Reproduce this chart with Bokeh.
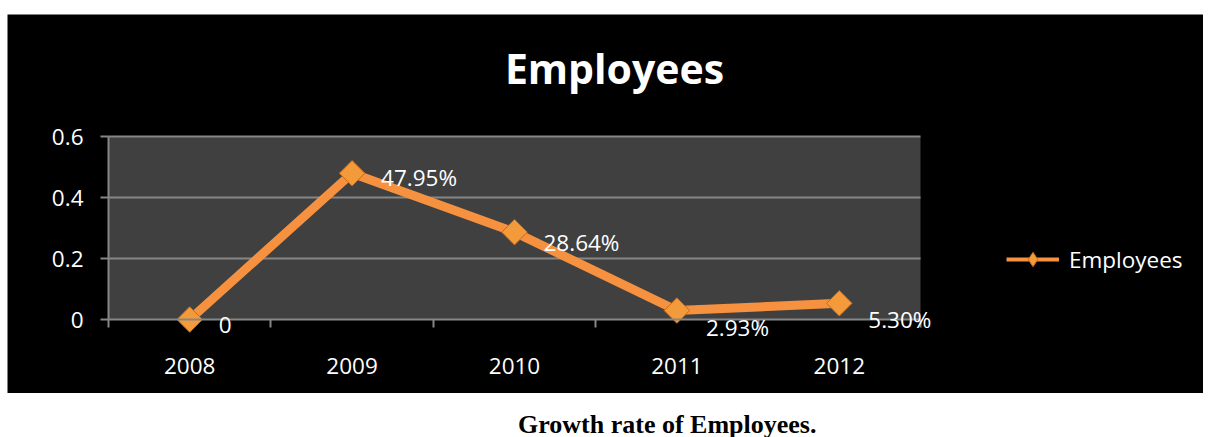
import numpy as np
from bokeh.plotting import figure
from bokeh.models import (ColumnDataSource, FixedTicker, LabelSet, Label, Legend, LegendItem,
                          Range1d, Div)
from bokeh.core.properties import value
from bokeh.layouts import column
from bokeh.embed import file_html
from bokeh.resources import INLINE

# ---- data ----
years = [2008, 2009, 2010, 2011, 2012]
growth = [0.0, 0.4795, 0.2864, 0.0293, 0.0530]
growth_labels = ["0", "47.95%", "28.64%", "2.93%", "5.30%"]
y_ticks = [0, 0.2, 0.4, 0.6]
y_tick_labels = ["0", "0.2", "0.4", "0.6"]
series_name = "Employees"
chart_title = "Employees"
caption = "Growth rate of Employees."

# styling offsets for data labels (pixels, screen)
label_dy = [-5, -4, -10, -17, -16]

FONT = "Open Sans"
FS = "22.5px"
ORANGE = "#F6913F"
GRID = "#868686"

# plot-area placement inside the black chart box (pixels)
W, H = 1196, 379
PL, PR, PT, PB = 101, 283, 122, 74   # gaps from chart box to plot area
x0, x1 = years[0] - 0.5, years[-1] + 0.5
y0, y1 = y_ticks[0], y_ticks[-1]
xs = (x1 - x0) / (W - PL - PR)
ys = (y1 - y0) / (H - PT - PB)

src = ColumnDataSource(dict(x=years, y=growth, lab=growth_labels, dy=label_dy))

p = figure(width=W, height=H, output_backend="svg", toolbar_location=None,
           x_range=Range1d(x0 - PL * xs, x1 + PR * xs),
           y_range=Range1d(y0 - PB * ys, y1 + PT * ys),
           min_border=0)
p.margin = (14, 0, 0, 7)
p.border_fill_color = "black"
p.background_fill_color = "black"
p.outline_line_color = None

# plot area background and gridlines
p.quad(left=[x0], right=[x1], bottom=[y0], top=[y1], fill_color="#404040", line_color=None)
p.segment(x0=[x0] * (len(y_ticks) - 1), x1=[x1] * (len(y_ticks) - 1),
          y0=y_ticks[1:], y1=y_ticks[1:], line_color=GRID, line_width=2)
p.xgrid.grid_line_color = None
p.ygrid.grid_line_color = None

# axes at the plot-area edges
xa = p.xaxis[0]
xa.fixed_location = y0
xa.bounds = (x0, x1)
xa.ticker = FixedTicker(ticks=years, minor_ticks=[y + 0.5 for y in [years[0] - 1] + years])
xa.major_tick_out = 0
xa.major_tick_in = 0
xa.minor_tick_out = 8
xa.minor_tick_in = 0
xa.minor_tick_line_color = GRID
xa.minor_tick_line_width = 2
xa.axis_line_color = GRID
xa.axis_line_width = 2
xa.major_label_text_color = "white"
xa.major_label_text_font = FONT
xa.major_label_text_font_size = FS
xa.major_label_standoff = 30

ya = p.yaxis[0]
ya.fixed_location = x0
ya.bounds = (y0, y1)
ya.ticker = FixedTicker(ticks=y_ticks)
ya.major_label_overrides = {t_: l for t_, l in zip(y_ticks, y_tick_labels)}
ya.major_tick_out = 8
ya.major_tick_in = 0
ya.minor_tick_out = 0
ya.minor_tick_in = 0
ya.major_tick_line_color = GRID
ya.major_tick_line_width = 2
ya.axis_line_color = GRID
ya.axis_line_width = 2
ya.major_label_text_color = "white"
ya.major_label_text_font = FONT
ya.major_label_text_font_size = FS
ya.major_label_standoff = 17

# series
line = p.line("x", "y", source=src, line_color=ORANGE, line_width=9)
pts = p.scatter("x", "y", source=src, marker="square", angle=np.pi / 4, size=18,
                fill_color="#F39A3A", line_color="#C96A1A", line_width=1)

labels = LabelSet(x="x", y="y", text="lab", source=src, x_offset=29, y_offset="dy",
                  text_color="white", text_font=value(FONT), text_font_size=value(FS),
                  text_baseline="middle", text_align="left")
p.add_layout(labels)

# title
p.add_layout(Label(x=607, y=326, x_units="screen", y_units="screen", text=chart_title,
                   text_color="white", text_font=FONT, text_font_size="41px",
                   text_font_style="bold", text_align="center", text_baseline="middle"))

# legend proxies (thinner line, diamond marker as in the reference legend); hidden in plot
leg_line = p.line("x", "y", source=src, line_color=ORANGE, line_width=4, visible=False)
leg_pts = p.scatter("x", "y", source=src, marker="diamond", size=16,
                    fill_color="#F39A3A", line_color="#C96A1A", line_width=1,
                    visible=False)

legend = Legend(items=[LegendItem(label=series_name, renderers=[leg_line, leg_pts])],
                location=(999, 116), orientation="vertical",
                background_fill_alpha=0, inactive_fill_alpha=0,
                border_line_color=None, label_text_color="white",
                label_text_font=FONT, label_text_font_size=FS,
                glyph_width=53, glyph_height=36, label_standoff=10,
                label_height=36, padding=0, margin=0)
p.add_layout(legend, "center")

cap = Div(text=caption, width=1208, height=44,
          styles={"font-family": "'Liberation Serif', 'Times New Roman', serif",
                  "font-weight": "bold", "font-size": "26px", "color": "black",
                  "text-align": "left", "padding-top": "8px",
                  "padding-left": "513px", "white-space": "nowrap"})

layout = column(p, cap, spacing=0)
open("out.html", "w").write(file_html(layout, INLINE))
